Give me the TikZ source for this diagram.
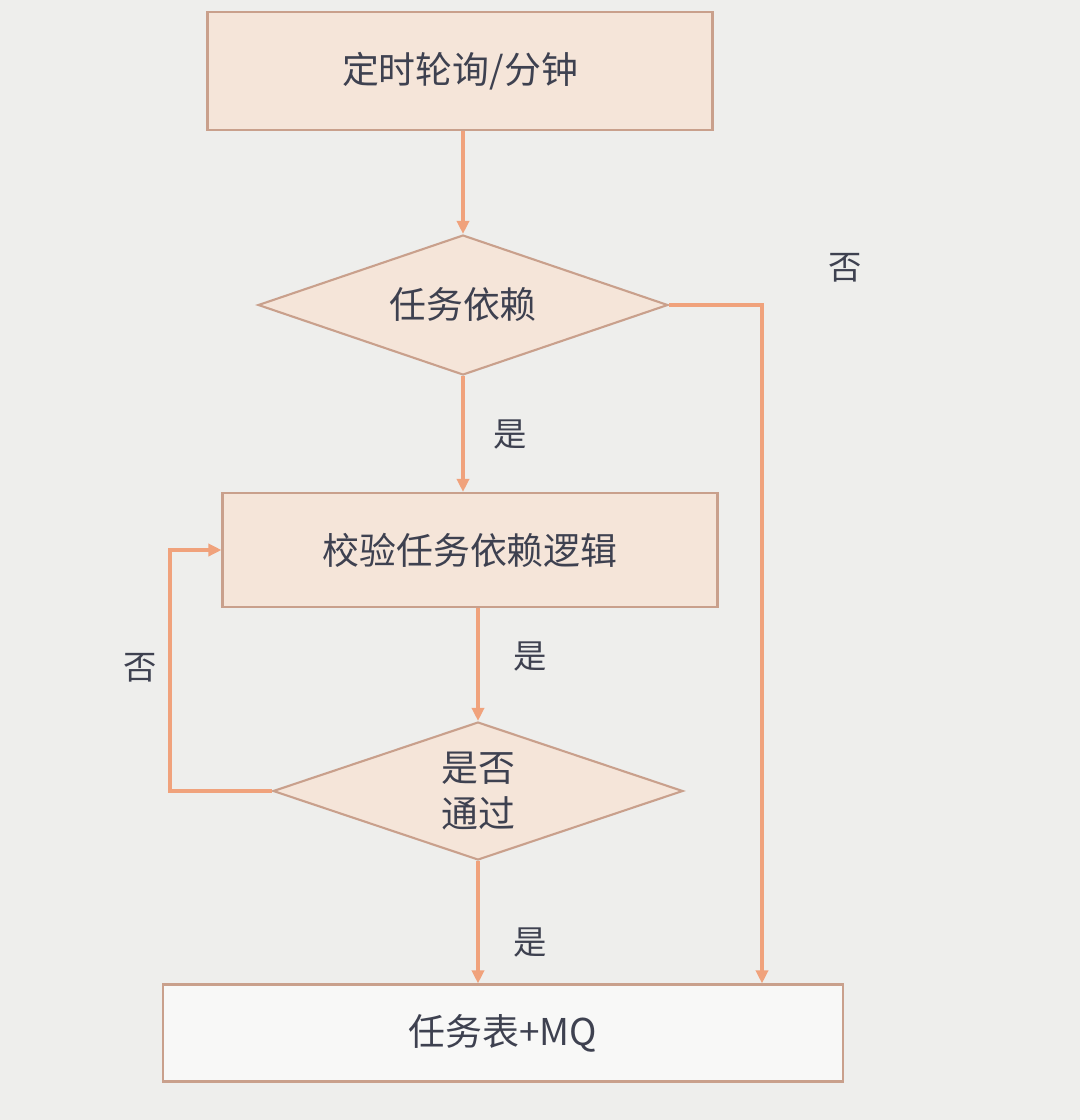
\documentclass[tikz,border=0pt]{standalone}
\usepackage{fontspec}
\usepackage{xcolor}
\usetikzlibrary{arrows.meta,calc,positioning,shapes.geometric}
\newfontfamily\cjk{Noto Sans CJK SC}
\definecolor{paper}{HTML}{EEEEEC}
\definecolor{boxfill}{HTML}{F5E5D9}
\definecolor{boxline}{HTML}{C9A08C}
\definecolor{flowline}{HTML}{F0A27C}
\definecolor{ink}{HTML}{3E4150}
\tikzset{
  procbox/.style={draw=boxline,fill=boxfill,line width=1.2pt,inner sep=0pt,font=\cjk\fontsize{21}{26}\selectfont,text=ink},
  decide/.style={diamond,aspect=2.9,draw=boxline,fill=boxfill,line width=1.2pt,inner sep=0pt,align=center,font=\cjk\fontsize{21}{26}\selectfont,text=ink},
  flow/.style={draw=flowline,line width=2.2pt,-{Triangle[length=0.26cm,width=0.24cm]}},
  yesno/.style={font=\cjk\fontsize{19}{22}\selectfont,text=ink}
}
\begin{document}
\begin{tikzpicture}[x=0.02cm,y=-0.02cm]
\fill[paper] (0,0) rectangle (1080,1120);
\useasboundingbox (0,0) rectangle (1080,1120);
% boxes and decisions
\node[procbox,minimum width=10.1cm,minimum height=2.36cm] (poll) at (460,71) {定时轮询/分钟};
\node[decide,minimum width=8.2cm,minimum height=2.8cm] (dep) at (463,305) {任务依赖};
\node[procbox,minimum width=9.9cm,minimum height=2.28cm] (check) at (470,550) {校验任务依赖逻辑};
\node[decide,minimum width=8.2cm,minimum height=2.76cm] (pass) at (478,791) {是否\\通过};
\node[procbox,fill=white!60!paper,minimum width=13.6cm,minimum height=1.94cm] (store) at (503,1033) {任务表+MQ};
\coordinate (rgt) at (762,0);
\coordinate (lft) at (170,0);
% connectors
\draw[flow] (poll.south -| dep.north) -- (dep.north);
\draw[flow] (dep.south) -- (dep.south |- check.north);
\draw[flow] (pass.north |- check.south) -- (pass.north);
\draw[flow] (pass.south) -- (pass.south |- store.north);
\draw[flow] (dep.east) -| (rgt |- store.north);
\draw[flow] (pass.west) -- (pass.west -| lft) |- (check.west);
% labels
\node[yesno] (no1) at (845,268) {否};
\node[yesno] (yes1) at (510,435) {是};
\node[yesno] (yes2) at (530,657) {是};
\node[yesno] (no2) at (140,668) {否};
\node[yesno] (yes3) at (530,943) {是};
\end{tikzpicture}
\end{document}
